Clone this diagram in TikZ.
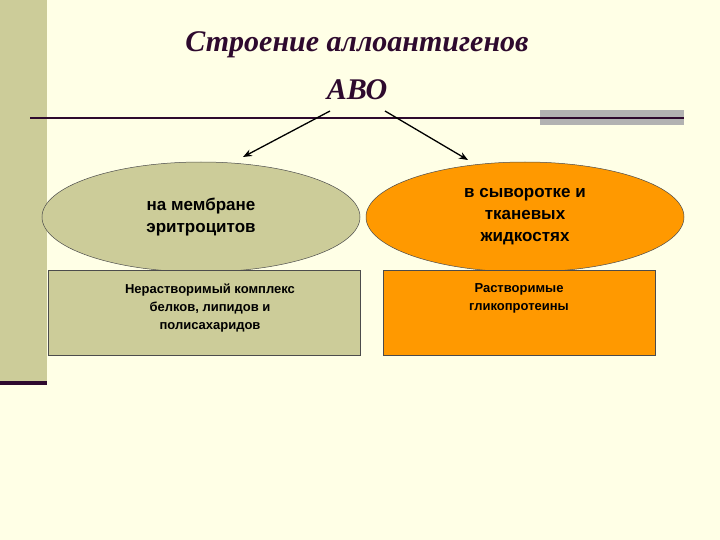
\documentclass[tikz,border=0pt]{standalone}
\usepackage{fontspec}
\setmainfont{Liberation Sans}
\newfontfamily\titlefont{Liberation Serif}
\usetikzlibrary{shapes.geometric,arrows.meta}
\definecolor{bg}{HTML}{FFFFE6}
\definecolor{olive}{HTML}{CCCC99}
\definecolor{orng}{HTML}{FF9900}
\definecolor{dark}{HTML}{2E0A2E}
\definecolor{grayb}{HTML}{B2B2B2}
\tikzset{
  ell/.style={ellipse,draw=black!70,line width=0.5pt,minimum width=318pt,minimum height=110pt,inner sep=0pt,align=center,font=\bfseries\fontsize{17}{22}\selectfont},
  box/.style={rectangle,draw=black!70,line width=0.5pt,anchor=north west,inner sep=0pt,align=center},
  boxtext/.style={align=center,font=\bfseries\fontsize{13}{18}\selectfont},
  arr/.style={-{Stealth[length=9pt,width=7pt]},line width=1.3pt},
  title/.style={text=dark,font=\titlefont\bfseries\itshape\fontsize{30}{34}\selectfont}
}
\begin{document}
\begin{tikzpicture}[x=1pt,y=-1pt]
\useasboundingbox (0,0) rectangle (720,540);
\fill[bg] (0,0) rectangle (720,540);
\fill[olive] (0,0) rectangle (47,383);
\fill[dark] (0,381) rectangle (47,385);
\fill[grayb] (540,110) rectangle (684,125);
\draw[dark,line width=1.5pt] (30,118) -- (684,118);
\node[title] (t1) at (357,45) {Строение аллоантигенов};
\node[title] (t2) at (357,90) {АВО};
\coordinate (s1) at (330,111);
\coordinate (s2) at (385,111);
\node[ell,fill=olive] (e1) at (201,217) {на мембране\\эритроцитов};
\node[ell,fill=orng] (e2) at (525,217) {в сыворотке и\\тканевых\\жидкостях};
\node[box,fill=olive,minimum width=312pt,minimum height=85pt] (b1) at (48,270) {};
\node[box,fill=orng,minimum width=272pt,minimum height=85pt] (b2) at (383,270) {};
\node[boxtext,anchor=north] (l1) at (210,280) {Нерастворимый комплекс\\белков, липидов и\\полисахаридов};
\node[boxtext,anchor=north] (l2) at (519,280) {Растворимые\\гликопротеины};
\draw[arr] (s1) -- (243,157);
\draw[arr] (s2) -- (468,160);
\end{tikzpicture}
\end{document}
